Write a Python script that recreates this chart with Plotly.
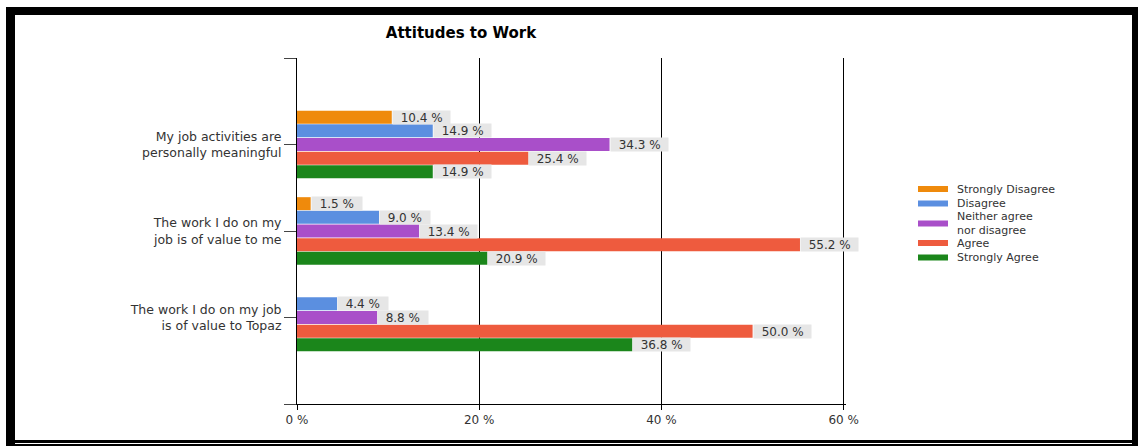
import plotly.graph_objects as go

# ---- data ----
statements = [
    "My job activities are<br>personally meaningful",
    "The work I do on my<br>job is of value to me",
    "The work I do on my job<br>is of value to Topaz",
]
series_names = [
    "Strongly Disagree",
    "Disagree",
    "Neither agree<br>nor disagree",
    "Agree",
    "Strongly Agree",
]
strongly_disagree = [10.4, 1.5, None]
disagree = [14.9, 9.0, 4.4]
neither = [34.3, 13.4, 8.8]
agree = [25.4, 55.2, 50.0]
strongly_agree = [14.9, 20.9, 36.8]
series_values = [strongly_disagree, disagree, neither, agree, strongly_agree]
x_ticks = [0, 20, 40, 60]
x_tick_labels = ["0 %", "20 %", "40 %", "60 %"]

# ---- styling ----
colors = ["#EF8A0C", "#5B8FE0", "#A94FC9", "#EE5B3E", "#1B861B"]
FONT = "DejaVu Sans"
TEXT = "#333333"
W, H = 1138, 446
L, R, T, B = 297, 292, 58, 42          # plot area margins (px)
X_MAX = 60.25                           # a little headroom so the 60 % gridline is drawn
STEP, BAR_W = 0.158, 0.15               # bar slot pitch / bar thickness (category units)

plot_w = W - L - R
plot_h = H - T - B


def px_x(px):
    return (px - L) / plot_w


def px_y(py):
    return (H - B - py) / plot_h


positions = list(range(1, len(statements) + 1))
n = len(series_names)

fig = go.Figure()
annotations = []
for i, (name, vals, col) in enumerate(zip(series_names, series_values, colors)):
    shift = (i - (n - 1) / 2) * STEP
    fig.add_trace(go.Bar(
        y=positions, x=vals, orientation="h", name=name.replace("<br>", " "),
        marker=dict(color=col, line=dict(width=0)),
        width=BAR_W, offset=shift - BAR_W / 2, showlegend=False,
        hoverinfo="skip",
    ))
    # value labels in grey boxes at the end of each bar
    for p, v in zip(positions, vals):
        if v is None:
            continue
        annotations.append(dict(
            x=v, y=p + shift, xref="x", yref="y", xanchor="left", yanchor="middle",
            text="&nbsp;&nbsp;%.1f %%&nbsp;&nbsp;" % v, showarrow=False,
            bgcolor="#E6E6E6", borderpad=0, height=13,
            font=dict(family=FONT, size=12, color=TEXT),
        ))

# ---- legend (wide swatches) ----
legend_rows = [189, 203.5, 223.5, 243, 257.5]
for name, col, cy in zip(series_names, colors, legend_rows):
    fig.add_shape(type="rect", xref="paper", yref="paper",
                  x0=px_x(918), x1=px_x(948), y0=px_y(cy + 3), y1=px_y(cy - 3),
                  fillcolor=col, line=dict(width=0))
    annotations.append(dict(
        x=px_x(955), y=px_y(cy), xref="paper", yref="paper",
        xanchor="left", yanchor="middle", align="left", text=name, showarrow=False,
        font=dict(family=FONT, size=11, color=TEXT),
    ))

# ---- outer frame ----
frame = [
    (6, 1138, 7, 15),      # top
    (6, 15, 7, 446),       # left
    (1132, 1138, 7, 446),  # right
    (6, 1138, 440, 443),   # bottom
    (6, 1138, 444, 446),   # bottom inner rule
]
for x0, x1, y0, y1 in frame:
    fig.add_shape(type="rect", xref="paper", yref="paper", layer="above",
                  x0=px_x(x0), x1=px_x(x1), y0=px_y(y1), y1=px_y(y0),
                  fillcolor="black", line=dict(width=0))

fig.update_layout(
    width=W, height=H,
    margin=dict(l=L, r=R, t=T, b=B, pad=0),
    paper_bgcolor="white", plot_bgcolor="white",
    barmode="overlay",
    showlegend=False,
    title=dict(text="<b>Attitudes to Work</b>", xref="paper", x=px_x(461),
               xanchor="center", yref="container", y=1 - 33 / H, yanchor="middle",
               font=dict(family=FONT, size=15, color="black")),
    font=dict(family=FONT, size=12, color=TEXT),
    annotations=annotations,
)

fig.update_xaxes(
    range=[0, X_MAX], tickvals=x_ticks, ticktext=x_tick_labels,
    showgrid=True, gridcolor="black", gridwidth=1, zeroline=False,
    showline=True, linecolor="black", linewidth=1,
    ticks="outside", ticklen=5, tickcolor="black",
    tickfont=dict(family=FONT, size=12, color=TEXT),
)
fig.update_yaxes(
    range=[len(statements) + 1, 0],
    tickvals=[0] + positions + [len(statements) + 1],
    ticktext=[""] + statements + [""],
    showgrid=False, zeroline=False,
    showline=True, linecolor="black", linewidth=1,
    ticks="outside", ticklen=12, tickcolor="#444444",
    tickfont=dict(family=FONT, size=12.5, color=TEXT),
)

fig.write_html("out.html")
